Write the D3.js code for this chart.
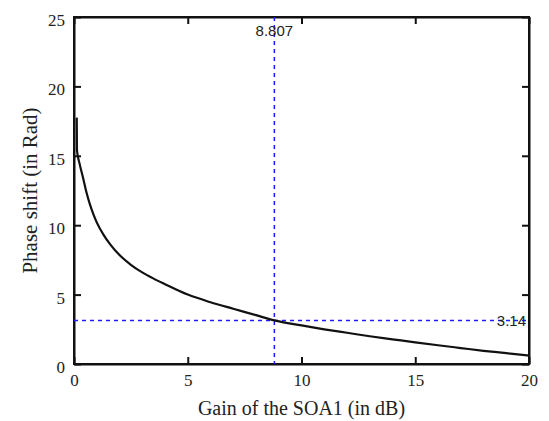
<!DOCTYPE html>
<html>
<head>
<meta charset="utf-8">
<script src="https://cdn.jsdelivr.net/npm/d3@7"></script>
<style>
    body { margin: 0; background: #fff; }
    .axis text { font-family: "Liberation Serif", "Times New Roman", serif; font-size: 17px; fill: #222; }
    .axis path, .axis line { stroke: #111; stroke-width: 2; }
</style>
</head>
<body>
<div id="chart"></div>
<script>

// Gain of the SOA1 (dB) vs phase shift (rad)
let gain  = [0.12, 0.13, 0.25, 0.4, 0.55, 0.7, 0.85, 1.0, 1.3, 1.6, 2.0, 2.5, 3.0, 3.5, 4.0, 5.0, 6.0, 7.0, 8.0, 8.807,
             10, 11, 12, 13, 14, 15, 16, 17, 18, 19, 20];
let phase = [17.75, 15.4, 14.4, 13.4, 12.35, 11.5, 10.8, 10.2, 9.3, 8.6, 7.85, 7.15, 6.6, 6.15, 5.75, 5.0, 4.45, 3.98, 3.52, 3.14,
             2.78, 2.5, 2.25, 2.0, 1.78, 1.56, 1.35, 1.15, 0.95, 0.78, 0.6];

let xTicks = [0, 5, 10, 15, 20];
let yTicks = [0, 5, 10, 15, 20, 25];

// marker lines
let markerGain = 8.807;
let markerPhase = 3.14;

let margin = { top: 17, right: 20, bottom: 57, left: 74 };
let width = 549 - margin.left - margin.right,
    height = 421 - margin.top - margin.bottom;

let svg = d3.select("#chart").append("svg")
    .attr("width", 549)
    .attr("height", 421)
    .append("g")
    .attr("transform", "translate(" + margin.left + "," + margin.top + ")");

let x = d3.scaleLinear().domain([0, 20]).range([0, width]);
let y = d3.scaleLinear().domain([0, 25]).range([height, 0]);

// axes, ticks pointing inwards on all four sides
svg.append("g")
    .attr("class", "axis")
    .attr("transform", "translate(0," + height + ")")
    .call(d3.axisBottom(x).tickValues(xTicks).tickSizeInner(-7).tickSizeOuter(0).tickPadding(10));

svg.append("g")
    .attr("class", "axis")
    .call(d3.axisTop(x).tickValues(xTicks).tickSizeInner(-7).tickSizeOuter(0).tickFormat(""));

svg.append("g")
    .attr("class", "axis y-left")
    .call(d3.axisLeft(y).tickValues(yTicks).tickSizeInner(-7).tickSizeOuter(0).tickPadding(9));

svg.select(".y-left").selectAll("text").attr("dy", "0.5em");

svg.append("g")
    .attr("class", "axis")
    .attr("transform", "translate(" + width + ",0)")
    .call(d3.axisRight(y).tickValues(yTicks).tickSizeInner(-7).tickSizeOuter(0).tickFormat(""));

// frame
svg.append("rect")
    .attr("width", width)
    .attr("height", height)
    .attr("fill", "none")
    .attr("stroke", "#111")
    .attr("stroke-width", 2);

// dashed markers
svg.append("line")
    .attr("x1", x(markerGain)).attr("x2", x(markerGain))
    .attr("y1", y(25)).attr("y2", y(0))
    .attr("stroke", "#1a1aff").attr("stroke-width", 1.5)
    .attr("stroke-dasharray", "4,4");

svg.append("line")
    .attr("x1", x(0)).attr("x2", x(20))
    .attr("y1", y(markerPhase)).attr("y2", y(markerPhase))
    .attr("stroke", "#1a1aff").attr("stroke-width", 1.5)
    .attr("stroke-dasharray", "4,4");

// curve
let line = d3.line()
    .x(function (d) { return x(d[0]); })
    .y(function (d) { return y(d[1]); })
    .curve(d3.curveMonotoneX);

svg.append("path")
    .datum(d3.zip(gain, phase))
    .attr("fill", "none")
    .attr("stroke", "#111")
    .attr("stroke-width", 2.2)
    .attr("d", line);

// marker labels
svg.append("text")
    .attr("x", x(markerGain))
    .attr("y", 19)
    .attr("text-anchor", "middle")
    .style("font-family", "Liberation Sans, Arial, sans-serif")
    .style("font-size", "15px")
    .attr("fill", "#222")
    .text(markerGain);

svg.append("text")
    .attr("x", width - 3)
    .attr("y", y(markerPhase) + 6)
    .attr("text-anchor", "end")
    .style("font-family", "Liberation Sans, Arial, sans-serif")
    .style("font-size", "15px")
    .attr("fill", "#222")
    .text(markerPhase);

// axis titles
svg.append("text")
    .attr("x", width / 2)
    .attr("y", height + 51)
    .attr("text-anchor", "middle")
    .style("font-family", "Liberation Serif, Times New Roman, serif")
    .style("font-size", "20px")
    .attr("fill", "#222")
    .text("Gain of the SOA1 (in dB)");

svg.append("text")
    .attr("transform", "translate(-37," + (height / 2) + ") rotate(-90)")
    .attr("text-anchor", "middle")
    .style("font-family", "Liberation Serif, Times New Roman, serif")
    .style("font-size", "21px")
    .attr("fill", "#222")
    .text("Phase shift (in Rad)");

</script>
</body>
</html>
